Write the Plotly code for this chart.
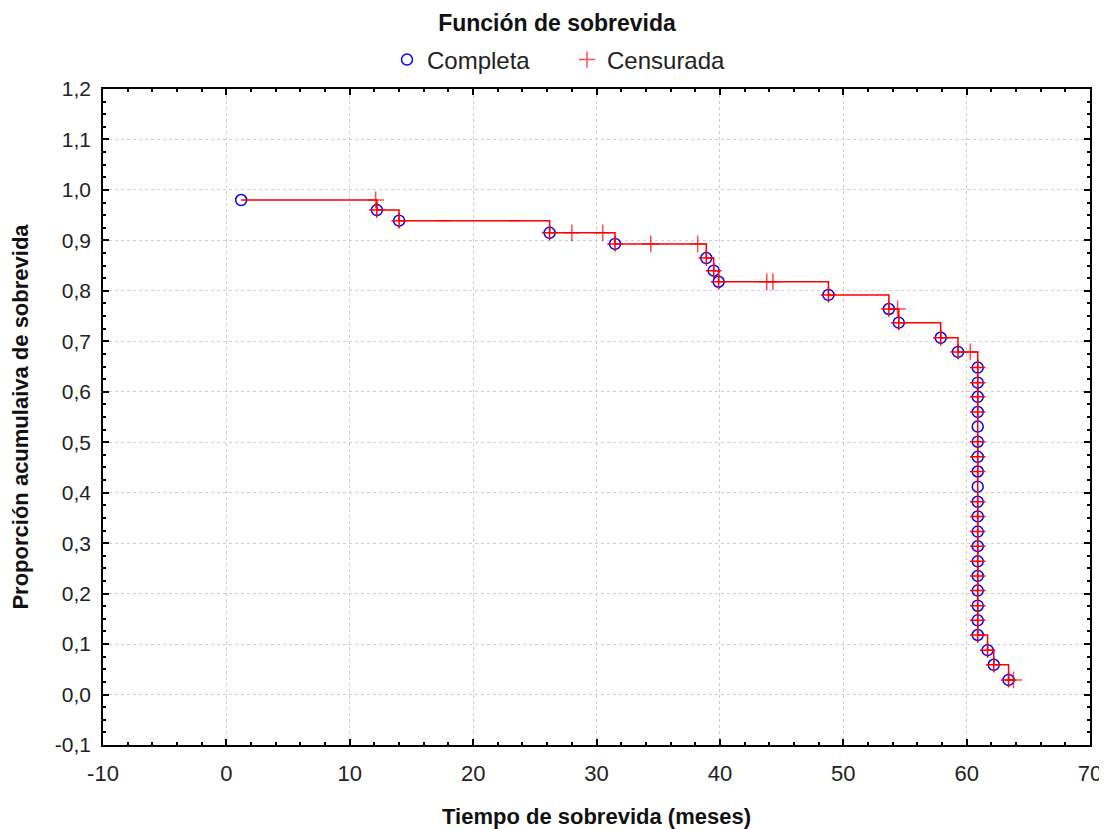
import plotly.graph_objects as go

# Complete (event) observations: time (months) and cumulative survival
event_t = [1.2, 12.2, 14.0, 26.2, 31.5, 38.9, 39.5, 39.9, 48.8, 53.7, 54.5, 57.9, 59.3,
           60.9, 60.9, 60.9, 60.9, 60.9, 60.9, 60.9, 60.9, 60.9, 60.9, 60.9, 60.9, 60.9,
           60.9, 60.9, 60.9, 60.9, 60.9, 60.9, 61.7, 62.2, 63.4]
event_s = [0.980, 0.960, 0.939, 0.915, 0.893, 0.865, 0.840, 0.818, 0.792, 0.764, 0.737, 0.707, 0.679,
           0.648, 0.618, 0.590, 0.560, 0.531, 0.501, 0.471, 0.442, 0.412, 0.382, 0.353, 0.323, 0.294,
           0.264, 0.235, 0.206, 0.176, 0.147, 0.118, 0.088, 0.059, 0.029]
# whether a "+" is drawn over the circle
event_plus = [False, True, True, True, True, True, True, True, True, True, True, True, True,
              True, True, True, True, False, True, True, True, False, True, True, True, True,
              True, True, True, True, True, True, True, True, True]

# Censored observations
cens_t = [12.1, 17.6, 23.3, 28.0, 30.5, 34.4, 38.2, 43.8, 44.3, 54.4, 60.3, 63.8]
cens_s = [0.980, 0.939, 0.939, 0.915, 0.915, 0.893, 0.893, 0.818, 0.818, 0.764, 0.679, 0.029]
cens_flat = [False, True, True, False, False, False, False, False, False, False, False, False]

x_ticks = [-10, 0, 10, 20, 30, 40, 50, 60, 70]
x_ticktext = ["-10", "0", "10", "20", "30", "40", "50", "60", "70"]
y_ticks = [-0.1, 0.0, 0.1, 0.2, 0.3, 0.4, 0.5, 0.6, 0.7, 0.8, 0.9, 1.0, 1.1, 1.2]
y_ticktext = ["-0,1", "0,0", "0,1", "0,2", "0,3", "0,4", "0,5", "0,6", "0,7", "0,8", "0,9", "1,0", "1,1", "1,2"]

# step line through all observations in time order
pts = sorted([(t, s) for t, s in zip(event_t, event_s)] + [(t, s) for t, s in zip(cens_t, cens_s)],
             key=lambda p: (p[0], -p[1]))
line_x = [p[0] for p in pts]
line_y = [p[1] for p in pts]

RED = "#ff0000"
BLUE = "#0000ff"
FONT = "Liberation Sans, Arial, sans-serif"
NARROW = "Liberation Sans Narrow, Arial Narrow, Liberation Sans, sans-serif"

# page body has an 8px margin: figure is sized to fit the 1107x829 window
W, H = 1099, 821

fig = go.Figure()
fig.add_trace(go.Scatter(
    x=event_t, y=event_s, mode="markers", name="Completa",
    marker=dict(symbol="circle-open", size=11, color=BLUE, line=dict(width=1.5, color=BLUE)),
))
fig.add_trace(go.Scatter(
    x=line_x, y=line_y, mode="lines", line=dict(shape="hv", color=RED, width=1.5),
    showlegend=False, hoverinfo="skip",
))
fig.add_trace(go.Scatter(
    x=cens_t, y=cens_s, mode="markers", name="Censurada",
    marker=dict(symbol=["line-ew-open" if f else "cross-thin-open" for f in cens_flat],
                size=[9 if f else 12 for f in cens_flat], color=RED,
                line=dict(width=1.5, color=RED)),
))
fig.add_trace(go.Scatter(
    x=[t for t, f in zip(event_t, event_plus) if f],
    y=[s for s, f in zip(event_s, event_plus) if f],
    mode="markers", showlegend=False, hoverinfo="skip",
    marker=dict(symbol="cross-thin-open", size=11, color=RED, line=dict(width=1.5, color=RED)),
))

axis_common = dict(
    showline=True, linecolor="black", linewidth=1.5, mirror="allticks",
    ticks="inside", ticklen=6, tickcolor="black", tickwidth=1.5,
    showgrid=True, gridcolor="#cfcfcf", gridwidth=1, griddash="dot",
    zeroline=False, automargin=False,
)

fig.update_layout(
    width=W, height=H,
    paper_bgcolor="white", plot_bgcolor="white",
    margin=dict(l=95, r=17, t=81, b=84, autoexpand=False),
    font=dict(family=FONT, color="#222222"),
    title=dict(text="<b>Función de sobrevida</b>", x=549 / W, xref="container", xanchor="center",
               y=1 - 15 / H, yref="container", yanchor="middle",
               font=dict(family=FONT, size=23, color="#111111")),
    legend=dict(orientation="h", x=559 / W, xref="container", xanchor="center",
                y=1 - 52 / H, yref="container", yanchor="middle",
                font=dict(family=FONT, size=24, color="#222222"),
                itemwidth=30, entrywidth=135, tracegroupgap=0, bgcolor="rgba(0,0,0,0)"),
    xaxis=dict(range=[-10, 70], tickvals=x_ticks, ticktext=x_ticktext, ticklabelstandoff=8,
               tickfont=dict(family=NARROW, size=22, color="#222222"),
               minor=dict(dtick=2, ticks="inside", ticklen=3, tickcolor="black", showgrid=False),
               title=dict(text="<b>Tiempo de sobrevida (meses)</b>", standoff=36,
                          font=dict(family=FONT, size=22, color="#111111")),
               **axis_common),
    yaxis=dict(range=[-0.1, 1.2], tickvals=y_ticks, ticktext=y_ticktext, ticklabelstandoff=6,
               tickfont=dict(family=FONT, size=21, color="#222222"),
               minor=dict(dtick=0.025, ticks="inside", ticklen=3, tickcolor="black", showgrid=False),
               title=dict(text="<b>Proporción acumulaiva de sobrevida</b>", standoff=26,
                          font=dict(family=FONT, size=22, color="#111111")),
               **axis_common),
)

fig.write_html("out.html")
